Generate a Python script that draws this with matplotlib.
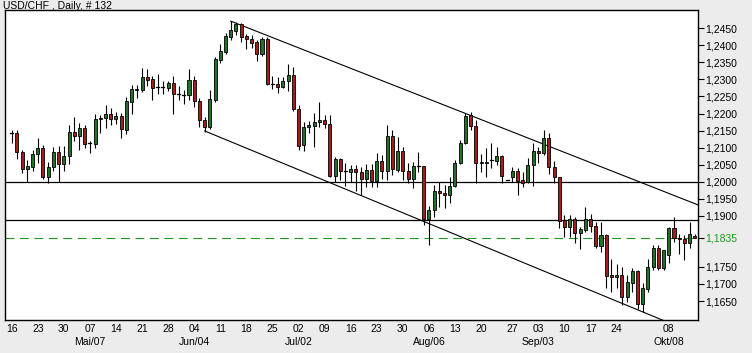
import matplotlib
matplotlib.use('Agg')
import matplotlib.pyplot as plt
from matplotlib.patches import Rectangle
from matplotlib.transforms import blended_transform_factory

plt.rcParams['font.family'] = ['Liberation Sans', 'DejaVu Sans']

# ---- data (USD/CHF daily OHLC, candle index 0 = Apr 16) ----
opens = [1.2144, 1.2144, 1.2087, 1.2038, 1.2044, 1.2080, 1.2098, 1.2015, 1.2044, 1.2086,
         1.2051, 1.2074, 1.2145, 1.2135, 1.2159, 1.2114, 1.2112, 1.2183, 1.2186, 1.2200,
         1.2183, 1.2193, 1.2152, 1.2235, 1.2270, 1.2270, 1.2307, 1.2300, 1.2279, 1.2278,
         1.2276, 1.2289, 1.2256, 1.2254, 1.2254, 1.2297, 1.2237, 1.2180, 1.2161, 1.2240,
         1.2358, 1.2381, 1.2425, 1.2443, 1.2462, 1.2427, 1.2420, 1.2409, 1.2374, 1.2418,
         1.2286, 1.2286, 1.2279, 1.2294, 1.2313, 1.2212, 1.2107, 1.2160, 1.2163, 1.2174,
         1.2181, 1.2168, 1.2018, 1.2066, 1.2032, 1.2029, 1.2037, 1.2029, 1.2008, 1.2034,
         1.2003, 1.2061, 1.2031, 1.2134, 1.2034, 1.2090, 1.2032, 1.2008, 1.2046, 1.2046,
         1.1892, 1.1917, 1.1973, 1.1966, 1.1961, 1.1987, 1.2054, 1.2113, 1.2196, 1.2163,
         1.2058, 1.2054, 1.2064, 1.2062, 1.2075, 1.2005, 1.2015, 1.2032, 1.2005, 1.1999,
         1.2049, 1.2090, 1.2083, 1.2127, 1.2044, 1.2013, 1.1888, 1.1866, 1.1891, 1.1849,
         1.1858, 1.1890, 1.1870, 1.1812, 1.1844, 1.1726, 1.1719, 1.1726, 1.1663, 1.1703,
         1.1739, 1.1640, 1.1685, 1.1749, 1.1806, 1.1746, 1.1785, 1.1863, 1.1834, 1.1831,
         1.1821, 1.1842]
highs = [1.2152, 1.2151, 1.2093, 1.2064, 1.2093, 1.2127, 1.2108, 1.2059, 1.2101, 1.2106,
         1.2105, 1.2166, 1.2189, 1.2173, 1.2166, 1.2119, 1.2198, 1.2197, 1.2225, 1.2215,
         1.2205, 1.2203, 1.2249, 1.2284, 1.2284, 1.2333, 1.2331, 1.2310, 1.2315, 1.2295,
         1.2295, 1.2310, 1.2280, 1.2269, 1.2331, 1.2310, 1.2245, 1.2191, 1.2268, 1.2367,
         1.2403, 1.2435, 1.2471, 1.2469, 1.2466, 1.2432, 1.2430, 1.2416, 1.2424, 1.2424,
         1.2310, 1.2308, 1.2308, 1.2345, 1.2337, 1.2225, 1.2176, 1.2179, 1.2201, 1.2233,
         1.2196, 1.2196, 1.2072, 1.2069, 1.2056, 1.2049, 1.2049, 1.2044, 1.2051, 1.2051,
         1.2083, 1.2078, 1.2166, 1.2152, 1.2132, 1.2103, 1.2054, 1.2059, 1.2088, 1.2046,
         1.1929, 1.1990, 1.2000, 1.1990, 1.2015, 1.2064, 1.2122, 1.2201, 1.2205, 1.2181,
         1.2081, 1.2098, 1.2113, 1.2103, 1.2078, 1.2005, 1.2044, 1.2040, 1.2029, 1.2069,
         1.2113, 1.2103, 1.2152, 1.2142, 1.2062, 1.2015, 1.1902, 1.1902, 1.1897, 1.1868,
         1.1925, 1.1905, 1.1883, 1.1883, 1.1847, 1.1772, 1.1759, 1.1751, 1.1726, 1.1746,
         1.1741, 1.1702, 1.1772, 1.1814, 1.1814, 1.1792, 1.1868, 1.1895, 1.1847, 1.1844,
         1.1883, 1.1848]
lows = [1.2114, 1.2066, 1.2026, 1.1998, 1.2031, 1.2054, 1.2008, 1.1995, 1.2031, 1.2000,
        1.2031, 1.2051, 1.2119, 1.2094, 1.2100, 1.2083, 1.2100, 1.2142, 1.2159, 1.2166,
        1.2168, 1.2127, 1.2139, 1.2198, 1.2245, 1.2264, 1.2282, 1.2241, 1.2256, 1.2256,
        1.2266, 1.2200, 1.2239, 1.2227, 1.2240, 1.2220, 1.2161, 1.2147, 1.2156, 1.2235,
        1.2347, 1.2374, 1.2416, 1.2430, 1.2411, 1.2388, 1.2391, 1.2355, 1.2369, 1.2284,
        1.2271, 1.2261, 1.2274, 1.2267, 1.2208, 1.2093, 1.2091, 1.2144, 1.2101, 1.2160,
        1.2157, 1.2015, 1.2000, 1.2005, 1.1987, 1.2000, 1.1974, 1.1961, 1.1983, 1.1983,
        1.1983, 1.2007, 1.2005, 1.2020, 1.2027, 1.2005, 1.1995, 1.1981, 1.2027, 1.1873,
        1.1814, 1.1897, 1.1927, 1.1922, 1.1937, 1.1984, 1.2052, 1.2111, 1.2152, 1.1997,
        1.2029, 1.2015, 1.2039, 1.2049, 1.1997, 1.2005, 1.2000, 1.1961, 1.1983, 1.1995,
        1.1987, 1.2054, 1.2078, 1.2023, 1.1995, 1.1863, 1.1839, 1.1839, 1.1819, 1.1802,
        1.1853, 1.1851, 1.1805, 1.1795, 1.1687, 1.1677, 1.1687, 1.1638, 1.1648, 1.1677,
        1.1626, 1.1619, 1.1677, 1.1741, 1.1741, 1.1741, 1.1761, 1.1824, 1.1788, 1.1770,
        1.1805, 1.1834]
closes = [1.2144, 1.2086, 1.2038, 1.2046, 1.2080, 1.2098, 1.2015, 1.2044, 1.2086, 1.2051,
          1.2074, 1.2145, 1.2135, 1.2159, 1.2112, 1.2114, 1.2183, 1.2186, 1.2200, 1.2183,
          1.2193, 1.2154, 1.2237, 1.2272, 1.2272, 1.2307, 1.2298, 1.2276, 1.2279, 1.2279,
          1.2289, 1.2256, 1.2256, 1.2254, 1.2297, 1.2237, 1.2180, 1.2161, 1.2242, 1.2360,
          1.2383, 1.2427, 1.2445, 1.2463, 1.2425, 1.2420, 1.2408, 1.2374, 1.2418, 1.2286,
          1.2286, 1.2279, 1.2295, 1.2313, 1.2212, 1.2106, 1.2160, 1.2166, 1.2176, 1.2182,
          1.2168, 1.2018, 1.2066, 1.2031, 1.2032, 1.2037, 1.2027, 1.2008, 1.2034, 1.2003,
          1.2061, 1.2031, 1.2134, 1.2036, 1.2090, 1.2032, 1.2008, 1.2046, 1.2046, 1.1890,
          1.1917, 1.1973, 1.1966, 1.1961, 1.1987, 1.2056, 1.2115, 1.2193, 1.2163, 1.2054,
          1.2054, 1.2058, 1.2064, 1.2075, 1.2017, 1.2005, 1.2032, 1.2003, 1.1997, 1.2049,
          1.2090, 1.2083, 1.2127, 1.2044, 1.2013, 1.1886, 1.1866, 1.1891, 1.1849, 1.1860,
          1.1890, 1.1870, 1.1812, 1.1844, 1.1723, 1.1719, 1.1726, 1.1663, 1.1707, 1.1739,
          1.1640, 1.1687, 1.1749, 1.1806, 1.1746, 1.1800, 1.1863, 1.1834, 1.1831, 1.1821,
          1.1847, 1.1835]

tick_idx = [0, 5, 10, 15, 20, 25, 30, 35, 40, 45, 50, 55, 60, 65, 70, 75, 80, 85, 90,
            96, 101, 106, 111, 116, 126]
tick_days = ['16', '23', '30', '07', '14', '21', '28', '04', '11', '18', '25', '02', '09',
             '16', '23', '30', '06', '13', '20', '27', '03', '10', '17', '24', '08']
month_idx = [15, 35, 55, 80, 101, 126]
month_labels = ['Mai/07', 'Jun/04', 'Jul/02', 'Aug/06', 'Sep/03', 'Okt/08']

ytick_vals = [1.1650, 1.1700, 1.1750, 1.1900, 1.1950, 1.2000, 1.2050, 1.2100, 1.2150,
              1.2200, 1.2250, 1.2300, 1.2350, 1.2400, 1.2450]
hline_levels = [1.2000, 1.1888]
last_price = 1.1835
upper_channel_x = [42, 131.6]
upper_channel_y = [1.2471, 1.1932]
lower_channel_x = [37, 131.6]
lower_channel_y = [1.2149, 1.1551]

title = 'USD/CHF , Daily, # 132'

# ---- styling ----
W, H = 752, 353
fig = plt.figure(figsize=(W / 100, H / 100), dpi=100, facecolor='#ECECEC')
ax = fig.add_axes([5 / W, 33 / H, 693 / W, 310 / H])
ax.set_facecolor('white')
ax.set_xlim(-1.28, 131.6)
ax.set_ylim(1.15943, 1.25037)

green = '#23702a'
red = '#a31d1d'
bw = 0.58

# horizontal lines and channel
for lv in hline_levels:
    ax.axhline(lv, color='black', lw=0.9, zorder=1)
ax.axhline(last_price, color='#1a9a1a', lw=0.8, ls=(0, (8, 5)), zorder=1)
ax.plot(upper_channel_x, upper_channel_y, color='black', lw=0.8, zorder=1)
ax.plot(lower_channel_x, lower_channel_y, color='black', lw=0.8, zorder=1)

for i, (o, h, l, c) in enumerate(zip(opens, highs, lows, closes)):
    ax.plot([i, i], [l, h], color='black', lw=0.8, zorder=2, solid_capstyle='butt')
    if abs(c - o) < 0.00015:
        ax.plot([i - bw / 2, i + bw / 2], [o, o], color='black', lw=0.9, zorder=3)
    else:
        col = green if c > o else red
        ax.add_patch(Rectangle((i - bw / 2, min(o, c)), bw, abs(c - o),
                               facecolor=col, edgecolor='black', lw=0.6, zorder=3))

for s in ax.spines.values():
    s.set_color('black')
    s.set_linewidth(1.0)

# y axis on right
ax.yaxis.tick_right()
yt = ytick_vals + [last_price]
ax.set_yticks(yt)
ax.set_yticklabels([('%.4f' % v).replace('.', ',') for v in yt])
ax.tick_params(axis='y', length=4, width=0.8, pad=1, labelsize=7.5)
for lab, v in zip(ax.get_yticklabels(), yt):
    if v == last_price:
        lab.set_color('#1a9a1a')
for tk, v in zip(ax.yaxis.get_major_ticks(), yt):
    if v == last_price:
        tk.tick2line.set_color('#1a9a1a')

# x axis
ax.set_xticks(tick_idx)
ax.set_xticklabels(tick_days)
ax.tick_params(axis='x', length=0, pad=3, labelsize=7.5)

trans = blended_transform_factory(ax.transData, ax.transAxes)
for xi, lab in zip(month_idx, month_labels):
    ax.text(xi, -22 / 310, lab, transform=trans, ha='center', va='center', fontsize=7.5)

fig.text(3 / W, 1 - 6 / H, title, ha='left', va='center', fontsize=7.5)

fig.savefig('out.png', dpi=100, facecolor=fig.get_facecolor())
